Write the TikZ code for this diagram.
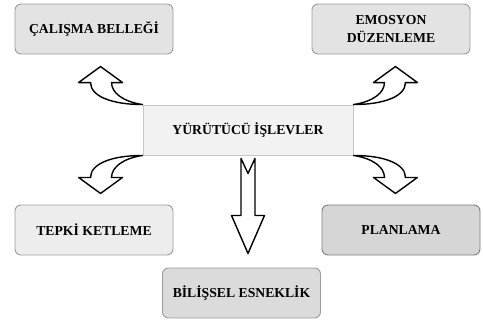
\documentclass[tikz,border=0pt]{standalone}
\usepackage{fontspec}
\setmainfont{Liberation Serif}
\usepackage{tikz}
\usepackage{xcolor}

\definecolor{boxline}{HTML}{9C9C9C}
\definecolor{darkline}{HTML}{7E7E7E}
\tikzset{
  kutu/.style={draw=boxline, line width=0.9pt, rounded corners=6pt, minimum width=158pt,
    minimum height=50pt, align=center, font=\fontsize{13.7}{18}\selectfont\bfseries},
  okyol/.style={draw=black, fill=white, line width=1.4pt, line join=round}
}
\newcommand{\egriok}{%
  \path[okyol] (0,0) .. controls (30,0) and (52,-8) .. (52,-22) -- (64,-22) -- (42,-38)
    -- (20,-22) -- (31,-22) .. controls (31,-12) and (20,-3) .. (0,0) -- cycle;}

\begin{document}
\begin{tikzpicture}[x=1pt,y=-1pt]
\useasboundingbox (0,0) rectangle (483,322);

% kutular
\node [kutu, minimum width=210pt, rounded corners=0pt, draw=black!22, fill=black!5] (cen) at (248,130) {YÜRÜTÜCÜ İŞLEVLER};
\node [kutu, fill=black!11] (cal) at (94,29) {ÇALIŞMA BELLEĞİ};
\node [kutu, fill=black!11] (emo) at (391,29) {EMOSYON\\DÜZENLEME};
\node [kutu, fill=black!7] (tep) at (94,230) {TEPKİ KETLEME};
\node [kutu, draw=darkline, fill=black!16] (pla) at (401,230) {PLANLAMA};
\node [kutu, fill=black!14] (bil) at (241.5,293) {BİLİŞSEL ESNEKLİK};

% oklar
\begin{scope}[shift={(cen.north west)}, xscale=-1]
  \egriok
\end{scope}
\begin{scope}[shift={(cen.north east)}]
  \egriok
\end{scope}
\begin{scope}[shift={(cen.south west)}, xscale=-1, yscale=-1]
  \egriok
\end{scope}
\begin{scope}[shift={(cen.south east)}, yscale=-1]
  \egriok
\end{scope}
\begin{scope}[shift={(cen.south)}]
  \path[okyol] (-7,3) -- (0,18) -- (7,3) -- (7,60) -- (16.5,60) -- (0,98)
    -- (-16.5,60) -- (-7,60) -- cycle;
\end{scope}
\end{tikzpicture}
\end{document}
